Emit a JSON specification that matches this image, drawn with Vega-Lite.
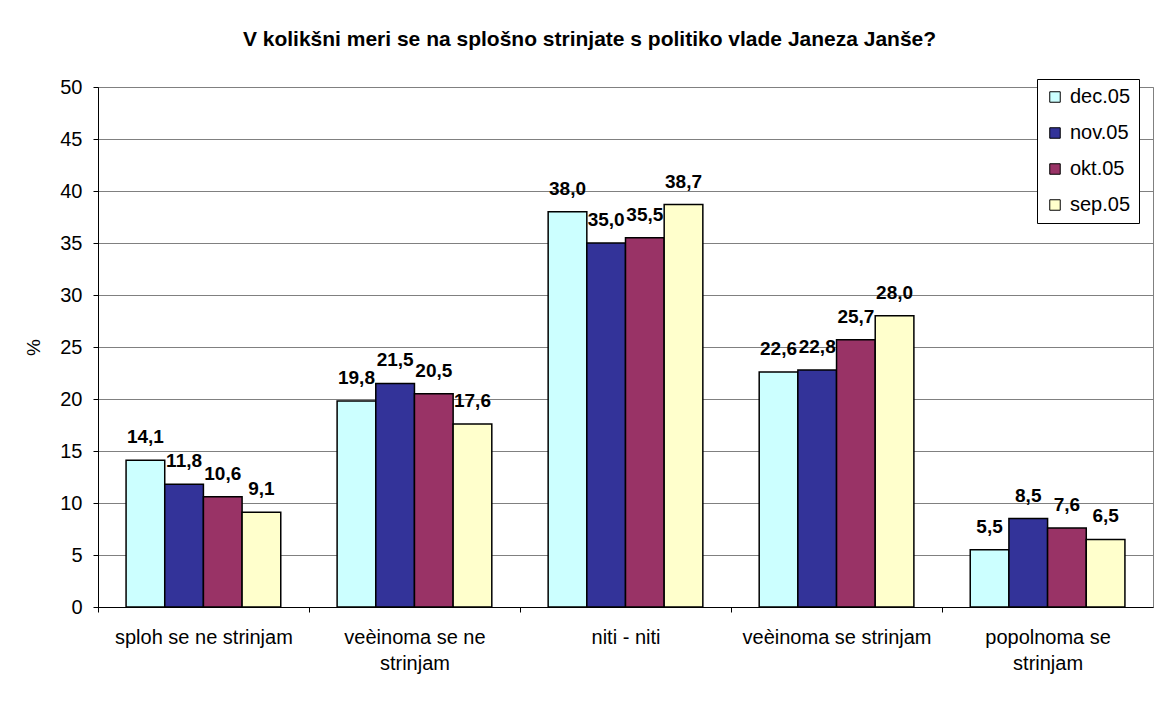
{
  "$schema": "https://vega.github.io/schema/vega-lite/v6.json",
  "width": 1055,
  "height": 520,
  "autosize": {"type": "none"},
  "padding": {"left": 98, "top": 87, "right": 20, "bottom": 97},
  "background": "white",
  "config": {
    "locale": {"number": {"decimal": ",", "thousands": ".", "grouping": [3], "currency": ["", " €"]}},
    "view": {"stroke": "#808080", "strokeWidth": 1},
    "font": "Liberation Sans"
  },
  "title": {
    "text": "V kolikšni meri se na splošno strinjate s politiko vlade Janeza Janše?",
    "font": "Liberation Sans",
    "fontSize": 21,
    "fontWeight": "bold",
    "color": "black",
    "anchor": "middle",
    "dx": -36,
    "offset": 27
  },
  "data": {
    "values": [
      {"kategorija": "sploh se ne strinjam", "mesec": "dec.05", "vrednost": 14.1},
      {"kategorija": "sploh se ne strinjam", "mesec": "nov.05", "vrednost": 11.8},
      {"kategorija": "sploh se ne strinjam", "mesec": "okt.05", "vrednost": 10.6},
      {"kategorija": "sploh se ne strinjam", "mesec": "sep.05", "vrednost": 9.1},
      {"kategorija": "veèinoma se ne strinjam", "mesec": "dec.05", "vrednost": 19.8},
      {"kategorija": "veèinoma se ne strinjam", "mesec": "nov.05", "vrednost": 21.5},
      {"kategorija": "veèinoma se ne strinjam", "mesec": "okt.05", "vrednost": 20.5},
      {"kategorija": "veèinoma se ne strinjam", "mesec": "sep.05", "vrednost": 17.6},
      {"kategorija": "niti - niti", "mesec": "dec.05", "vrednost": 38.0},
      {"kategorija": "niti - niti", "mesec": "nov.05", "vrednost": 35.0},
      {"kategorija": "niti - niti", "mesec": "okt.05", "vrednost": 35.5},
      {"kategorija": "niti - niti", "mesec": "sep.05", "vrednost": 38.7},
      {"kategorija": "veèinoma se strinjam", "mesec": "dec.05", "vrednost": 22.6},
      {"kategorija": "veèinoma se strinjam", "mesec": "nov.05", "vrednost": 22.8},
      {"kategorija": "veèinoma se strinjam", "mesec": "okt.05", "vrednost": 25.7},
      {"kategorija": "veèinoma se strinjam", "mesec": "sep.05", "vrednost": 28.0},
      {"kategorija": "popolnoma se strinjam", "mesec": "dec.05", "vrednost": 5.5},
      {"kategorija": "popolnoma se strinjam", "mesec": "nov.05", "vrednost": 8.5},
      {"kategorija": "popolnoma se strinjam", "mesec": "okt.05", "vrednost": 7.6},
      {"kategorija": "popolnoma se strinjam", "mesec": "sep.05", "vrednost": 6.5}
    ]
  },
  "encoding": {
    "x": {
      "field": "kategorija",
      "type": "nominal",
      "sort": ["sploh se ne strinjam", "veèinoma se ne strinjam", "niti - niti", "veèinoma se strinjam", "popolnoma se strinjam"],
      "scale": {"paddingInner": 0.267, "paddingOuter": 0.133},
      "axis": {
        "title": null,
        "labelAngle": 0,
        "labelFont": "Liberation Sans",
        "labelFontSize": 20,
        "labelColor": "black",
        "labelLineHeight": 26,
        "labelPadding": 15,
        "labelLimit": 300,
        "labelExpr": "datum.value == 'veèinoma se ne strinjam' ? ['veèinoma se ne', 'strinjam'] : datum.value == 'popolnoma se strinjam' ? ['popolnoma se', 'strinjam'] : datum.value",
        "domainColor": "black",
        "domainWidth": 1,
        "tickColor": "black",
        "tickSize": 5,
        "tickOffset": -105.5,
        "labelOffset": 105.5,
        "grid": false
      }
    },
    "xOffset": {"field": "mesec", "type": "nominal", "sort": ["dec.05", "nov.05", "okt.05", "sep.05"]},
    "y": {
      "field": "vrednost",
      "type": "quantitative",
      "scale": {"domain": [0, 50], "nice": false},
      "axis": {
        "title": "%",
        "titleFont": "Liberation Sans",
        "titleFontSize": 19,
        "titleFontWeight": "normal",
        "titleColor": "black",
        "titleAngle": -90,
        "titleX": -65,
        "titleY": 260,
        "titleAlign": "center",
        "titleBaseline": "middle",
        "values": [0, 5, 10, 15, 20, 25, 30, 35, 40, 45, 50],
        "labelFont": "Liberation Sans",
        "labelFontSize": 20,
        "labelColor": "black",
        "labelPadding": 11,
        "tickColor": "black",
        "tickSize": 5,
        "domainColor": "black",
        "grid": true,
        "gridColor": "#808080",
        "gridWidth": 1
      }
    }
  },
  "layer": [
    {
      "mark": {"type": "bar", "stroke": "black", "strokeWidth": 1.5},
      "encoding": {
        "color": {
          "field": "mesec",
          "type": "nominal",
          "sort": ["dec.05", "nov.05", "okt.05", "sep.05"],
          "scale": {"domain": ["dec.05", "nov.05", "okt.05", "sep.05"], "range": ["#CCFFFF", "#333399", "#993366", "#FFFFCC"]},
          "legend": {
            "title": null,
            "orient": "none",
            "legendX": 939,
            "legendY": -8,
            "strokeColor": "black",
            "fillColor": "white",
            "padding": 8,
            "symbolType": "square",
            "symbolSize": 110,
            "symbolStrokeColor": "black",
            "symbolStrokeWidth": 1,
            "symbolOpacity": 1,
            "labelFont": "Liberation Sans",
            "labelFontSize": 20,
            "labelColor": "black",
            "labelOffset": 5,
            "rowPadding": 16,
            "labelLimit": 200
          }
        }
      }
    },
    {
      "mark": {"type": "text", "baseline": "bottom", "dy": -13, "fontWeight": "bold", "fontSize": 19, "font": "Liberation Sans", "color": "black"},
      "encoding": {
        "text": {"field": "vrednost", "type": "quantitative", "format": ".1f"}
      }
    }
  ]
}
